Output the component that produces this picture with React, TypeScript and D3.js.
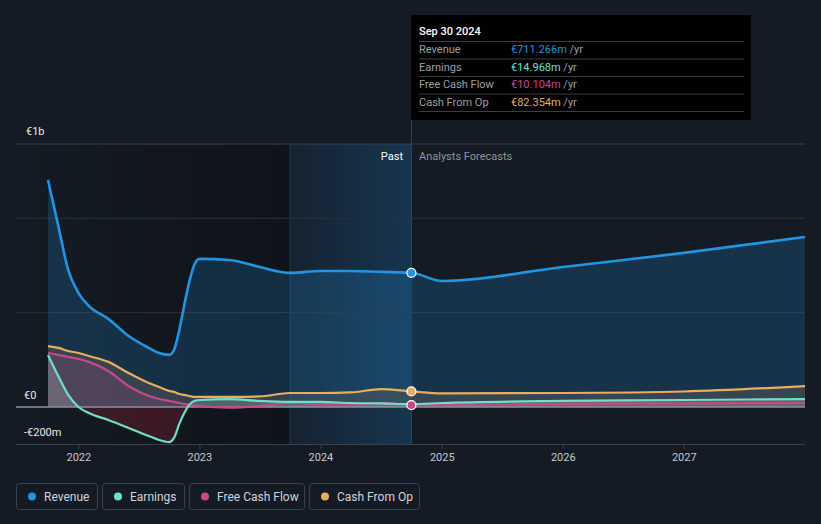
import React from "react";
import * as d3 from "d3";

const pastDates = [
  "2021-09-30", "2021-10-31", "2021-11-30", "2021-12-31", "2022-01-31", "2022-03-31",
  "2022-05-31", "2022-07-31", "2022-08-31", "2022-09-30", "2022-10-15", "2022-10-31",
  "2022-11-15", "2022-11-30", "2022-12-15", "2022-12-31", "2023-03-31", "2023-06-30",
  "2023-09-30", "2023-12-31", "2024-03-31", "2024-06-30", "2024-09-30",
];
const forecastDates = ["2024-09-30", "2024-12-31", "2025-12-31", "2026-12-31", "2027-12-31"];

const revenuePast = [1204, 960, 726, 604, 536, 467, 376, 313, 286, 276, 302, 408, 541, 663, 753, 785, 779, 742, 711, 721, 721, 716, 711.266];
const earningsPast = [276, 164, 64, 0, -32, -69, -111, -154, -175, -186, -164, -90, -32, 11, 32, 37, 42, 32, 27, 27, 21, 19, 14.968];
const fcfPast = [286, 276, 265, 255, 239, 191, 111, 58, 42, 32, 27, 21, 16, 11, 8, 5, -3, 5, 21, 16, 16, 21, 10.104];
const cfoPast = [323, 313, 297, 286, 270, 239, 180, 127, 106, 85, 80, 69, 64, 58, 53, 53, 53, 56, 74, 74, 77, 95, 82.354];

const revenueFc = [711.266, 668, 742, 817, 901];
const earningsFc = [14.968, 21, 32, 37, 42];
const fcfFc = [10.104, 10, 16, 19, 21];
const cfoFc = [82.354, 72, 74, 82, 111];

const yearTicks = ["2022", "2023", "2024", "2025", "2026", "2027"];

const seriesNames = ["Revenue", "Earnings", "Free Cash Flow", "Cash From Op"];
const seriesColors = ["#2394df", "#6ee0c8", "#c8488a", "#e8ad5e"];
const tooltipValues = ["€711.266m", "€14.968m", "€10.104m", "€82.354m"];

const parse = d3.timeParse("%Y-%m-%d");

export default function App() {
  const W = 821, H = 524;
  const left = 16, right = 805;
  const x = d3.scaleTime().domain([parse("2021-09-30")!, parse("2027-12-31")!]).range([48, 805]);
  const y = d3.scaleLinear().domain([-200, 1394]).range([444.7, 144]);
  const y0 = y(0);

  const mk = (dates: string[], vals: number[]) => dates.map((d, i) => ({ d: parse(d)!, v: vals[i] }));
  const past = [revenuePast, earningsPast, fcfPast, cfoPast].map((v) => mk(pastDates, v));
  const fc = [revenueFc, earningsFc, fcfFc, cfoFc].map((v) => mk(forecastDates, v));
  const full = past.map((p, i) => [...p, ...fc[i].slice(1)]);

  const line = d3.line<{ d: Date; v: number }>().x((p) => x(p.d)).y((p) => y(p.v)).curve(d3.curveMonotoneX);
  const area = d3.area<{ d: Date; v: number }>().x((p) => x(p.d)).y0(y0).y1((p) => y(p.v)).curve(d3.curveMonotoneX);

  const nowX = x(parse("2024-09-30")!);
  const hlX = x(parse("2023-09-30")!);
  const ticks = yearTicks.map((t) => ({ t, px: x(parse(t + "-01-01")!) }));
  const last = past.map((p) => p[p.length - 1]);

  const legendBoxes = [
    { x: 16, w: 81 },
    { x: 102, w: 82 },
    { x: 189, w: 115 },
    { x: 309, w: 110 },
  ];
  const font = "Roboto, 'Open Sans', sans-serif";

  return (
    <svg width={W} height={H} style={{ display: "block", position: "absolute", left: 0, top: 0, background: "#151b24" }} fontFamily={font}>
      <defs>
        <linearGradient id="darkPast" x1="0" x2="1" y1="0" y2="0">
          <stop offset="0" stopColor="#000" stopOpacity="0" />
          <stop offset="1" stopColor="#000" stopOpacity="0.28" />
        </linearGradient>
        <linearGradient id="hl" x1="0" x2="1" y1="0" y2="0">
          <stop offset="0" stopColor="#1a5a8c" stopOpacity="0.12" />
          <stop offset="1" stopColor="#1a5a8c" stopOpacity="0.42" />
        </linearGradient>
        <clipPath id="above"><rect x={0} y={0} width={W} height={y0} /></clipPath>
        <clipPath id="below"><rect x={0} y={y0} width={W} height={H - y0} /></clipPath>
        <clipPath id="pastClip"><rect x={0} y={0} width={nowX} height={H} /></clipPath>
      </defs>

      {/* background regions */}
      <rect x={left} y={144} width={hlX - left} height={444 - 144} fill="url(#darkPast)" />
      <rect x={hlX} y={144} width={nowX - hlX} height={444 - 144} fill="url(#hl)" />
      <line x1={hlX} x2={hlX} y1={144} y2={444} stroke="#24384c" strokeWidth={1} />

      {/* gridlines */}
      {[1394, 1000, 500].map((v) => (
        <line key={v} x1={left} x2={right} y1={y(v)} y2={y(v)} stroke={v === 1394 ? "#3a4049" : "#2a3039"} strokeWidth={1} />
      ))}
      <line x1={left} x2={right} y1={444.5} y2={444.5} stroke="#3a4049" strokeWidth={1} />
      {ticks.map((t) => (
        <line key={t.t} x1={t.px} x2={t.px} y1={444} y2={449} stroke="#3a4049" />
      ))}

      {/* areas */}
      <path d={area(full[0])!} fill="#2394df" opacity={0.2} />
      <path d={area(full[3])!} fill="#5a5a5a" opacity={0.45} />
      <path d={area(full[2])!} fill="#c8488a" opacity={0.18} clipPath="url(#above)" />
      <path d={area(full[1])!} fill="#b8c8c4" opacity={0.25} clipPath="url(#above)" />
      <path d={area(full[1])!} fill="#8a2035" opacity={0.35} clipPath="url(#below)" />

      {/* zero line */}
      <line x1={left} x2={right} y1={y0} y2={y0} stroke="#8d9197" strokeWidth={1.5} />

      {/* lines */}
      {[3, 2, 1, 0].map((i) => (
        <path key={i} d={line(full[i])!} fill="none" stroke={seriesColors[i]} strokeWidth={i === 0 ? 2.6 : 2.2} strokeLinejoin="round" />
      ))}

      {/* now line */}
      <line x1={nowX} x2={nowX} y1={15} y2={444} stroke="#2a4860" strokeWidth={1} />

      {/* dots */}
      {[0, 3, 2].map((i) => (
        <circle key={i} cx={x(last[i].d)} cy={y(last[i].v)} r={4.5} fill={seriesColors[i]} stroke="#ffffff" strokeWidth={1.2} />
      ))}

      {/* y labels */}
      <text x={26} y={135} fill="#e6e8ea" fontSize={11}>€1b</text>
      <text x={24} y={399} fill="#e6e8ea" fontSize={11}>€0</text>
      <text x={24} y={436} fill="#e6e8ea" fontSize={11}>-€200m</text>

      {/* x labels */}
      {ticks.map((t) => (
        <text key={t.t} x={t.px} y={461} fill="#c4c8cc" fontSize={11} textAnchor="middle">{t.t}</text>
      ))}

      <text x={403} y={160} fill="#ffffff" fontSize={11} textAnchor="end">Past</text>
      <text x={419} y={160} fill="#8e949b" fontSize={11}>Analysts Forecasts</text>

      {/* tooltip */}
      <rect x={411} y={15} width={340} height={105} fill="#000000" />
      <text x={419} y={35} fill="#ffffff" fontSize={11} fontWeight={500}>Sep 30 2024</text>
      {seriesNames.map((n, i) => (
        <g key={n}>
          <line x1={419} x2={744} y1={41.5 + i * 17.5} y2={41.5 + i * 17.5} stroke="#3a3d42" />
          <text x={419} y={53 + i * 17.5} fill="#9ba0a6" fontSize={11}>{n}</text>
          <text x={511} y={53 + i * 17.5} fill={seriesColors[i]} fontSize={11}>
            {tooltipValues[i]}<tspan fill="#9ba0a6"> /yr</tspan>
          </text>
        </g>
      ))}
      <line x1={419} x2={744} y1={111.5} y2={111.5} stroke="#3a3d42" />

      {/* legend */}
      {seriesNames.map((n, i) => (
        <g key={n}>
          <rect x={legendBoxes[i].x + 0.5} y={483.5} width={legendBoxes[i].w} height={26} rx={3} fill="none" stroke="#3a414b" />
          <circle cx={legendBoxes[i].x + 16} cy={496.5} r={4} fill={seriesColors[i]} />
          <text x={legendBoxes[i].x + 28} y={500.5} fill="#cfd3d8" fontSize={12}>{n}</text>
        </g>
      ))}
    </svg>
  );
}
